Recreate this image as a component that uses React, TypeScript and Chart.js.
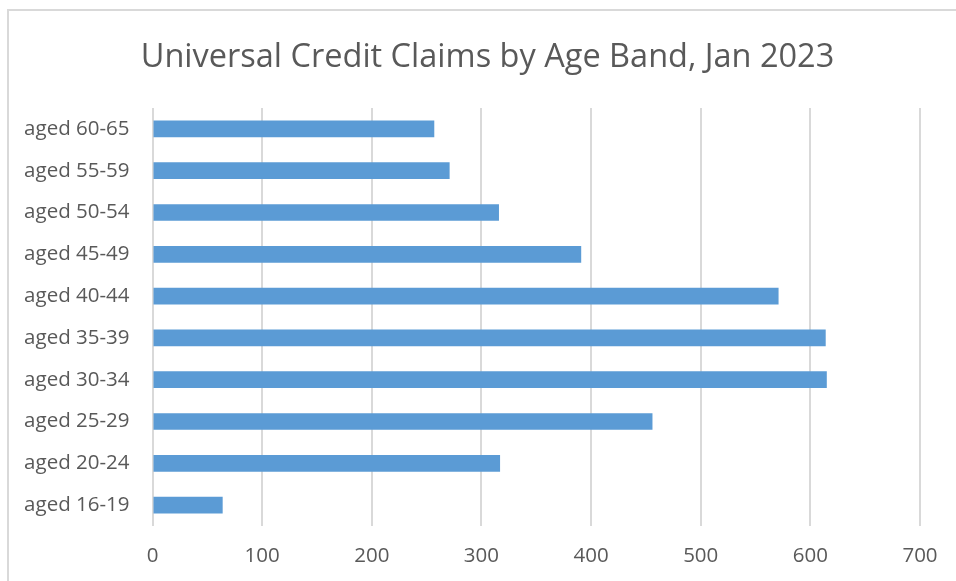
import React, { useEffect, useRef } from "react";
import { Chart, registerables } from "chart.js";

Chart.register(...registerables);

const categories = [
  "aged 16-19",
  "aged 20-24",
  "aged 25-29",
  "aged 30-34",
  "aged 35-39",
  "aged 40-44",
  "aged 45-49",
  "aged 50-54",
  "aged 55-59",
  "aged 60-65",
];
const claims = [64, 317, 456, 615, 614, 571, 391, 316, 271, 257];
const xTicks = [0, 100, 200, 300, 400, 500, 600, 700];
const titleText = "Universal Credit Claims by Age Band, Jan 2023";

const FONT = "'Open Sans', 'Noto Sans', sans-serif";
const TITLE_SIZE = 32.5;

// Draws the reserved title centred on the whole canvas (offset like the original frame)
const centeredTitle = {
  id: "centeredTitle",
  afterDraw(chart: any) {
    const t = chart.titleBlock;
    if (!t) return;
    const ctx = chart.ctx;
    ctx.save();
    ctx.fillStyle = "#595959";
    ctx.font = `normal ${TITLE_SIZE}px ${FONT}`;
    ctx.textAlign = "center";
    ctx.textBaseline = "middle";
    const cy = t.top + t.options.padding.top + (TITLE_SIZE * 1.2) / 2;
    ctx.fillText(titleText, chart.width / 2 + 9.5, cy);
    ctx.restore();
  },
};

export default function App() {
  const ref = useRef<HTMLCanvasElement | null>(null);
  useEffect(() => {
    if (!ref.current) return;
    const chart = new Chart(ref.current, {
      type: "bar",
      data: {
        labels: categories,
        datasets: [
          {
            data: claims,
            backgroundColor: "#5b9bd5",
            barPercentage: 0.4,
            categoryPercentage: 1,
          },
        ],
      },
      plugins: [centeredTitle],
      options: {
        indexAxis: "y",
        animation: false,
        responsive: false,
        maintainAspectRatio: false,
        layout: { padding: { left: 10, right: 36, top: 10, bottom: 0 } },
        plugins: {
          legend: { display: false },
          tooltip: { enabled: false },
          title: {
            display: true,
            text: titleText,
            color: "rgba(0,0,0,0)",
            font: { family: FONT, size: TITLE_SIZE, weight: "normal", lineHeight: 1.2 },
            padding: { top: 28, bottom: 31 },
          },
        },
        scales: {
          x: {
            min: 0,
            max: 700,
            afterBuildTicks: (s: any) => {
              s.ticks = xTicks.map((v) => ({ value: v }));
            },
            afterFit: (s: any) => {
              s.height = 55;
            },
            grid: { color: "#d9d9d9", lineWidth: 2, drawTicks: false },
            border: { display: false },
            ticks: {
              color: "#595959",
              font: { family: FONT, size: 20.5 },
              padding: 18,
            },
          },
          y: {
            reverse: true,
            afterFit: (s: any) => {
              s.width = 142.5;
            },
            grid: { display: false, drawTicks: false },
            border: { display: false },
            ticks: {
              color: "#595959",
              font: { family: FONT, size: 20.5 },
              padding: 23,
            },
          },
        },
      },
    });
    return () => chart.destroy();
  }, []);
  return (
    <div
      style={{
        position: "fixed",
        left: 0,
        top: 0,
        width: 956,
        height: 581,
        overflow: "hidden",
        background: "#fff",
      }}
    >
      <div
        style={{
          position: "absolute",
          left: 7,
          top: 9,
          width: 2000,
          height: 2000,
          borderLeft: "2px solid #d9d9d9",
          borderTop: "2px solid #d9d9d9",
        }}
      />
      <canvas ref={ref} width={956} height={581} style={{ position: "absolute", left: 0, top: 0 }} />
    </div>
  );
}
